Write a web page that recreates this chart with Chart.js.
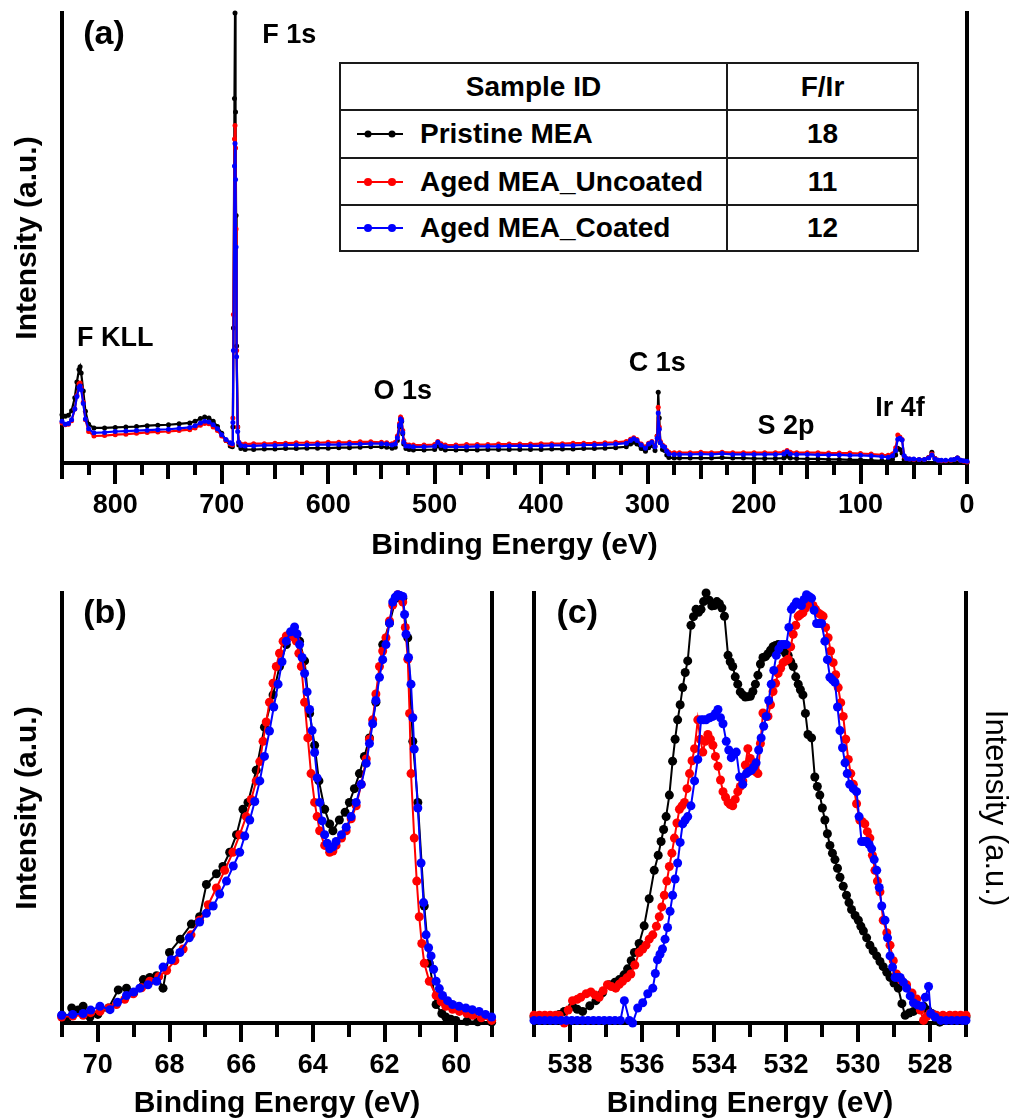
<!DOCTYPE html>
<html><head><meta charset="utf-8">
<script src="https://cdn.jsdelivr.net/npm/chart.js@4.4.1/dist/chart.umd.min.js"></script>
<style>
html,body{margin:0;padding:0;background:#fff;}
#wrap{position:relative;width:1018px;height:1120px;overflow:hidden;background:#fff;}
canvas{position:absolute;left:0;top:0;}
#tbl{position:absolute;left:339px;top:62px;width:580px;height:190px;box-sizing:border-box;background:#1a1a1a;padding:2px;display:grid;grid-template-columns:385px 189px;grid-template-rows:45px 46px 45px 44px;gap:2px;font-family:"Liberation Sans",Arial,Helvetica,sans-serif;font-weight:bold;font-size:28px;color:#000;}
#tbl div{background:#fff;display:flex;align-items:center;white-space:nowrap;}
#tbl .c{justify-content:center;}
#tbl .l{padding-left:16px;}
#tbl .l svg{margin-right:17px;flex:none;}
</style></head><body><div id="wrap">
<canvas id="ca" width="1018" height="1120"></canvas>
<canvas id="cb" width="1018" height="1120"></canvas>
<canvas id="cc" width="1018" height="1120"></canvas>
<div id="tbl"></div>
</div>
<script>
// ---------------- DATA ----------------
const sampleIDs = ['Pristine MEA', 'Aged MEA_Uncoated', 'Aged MEA_Coated'];
const fIrRatios = ['18', '11', '12'];

const surveyTicks = [800, 700, 600, 500, 400, 300, 200, 100, 0];
const ir4fTicks = [70, 68, 66, 64, 62, 60];
const o1sTicks = [538, 536, 534, 532, 530, 528];

// (a) survey, binding energy (eV)
const surveyBE = [850,847,844,841,838,836,834,833,832,830,
828,825,820,810,800,790,780,770,760,750,
740,730,725,720,716,712,708,704,700,696,
692,690,689.5,689,688,687.5,687,686.5,686,685,
684,682,678,670,660,650,640,630,620,610,
600,590,580,570,560,550,545,540,537,535,
533,532,531,530,529,527,524,520,510,500,
497,494,490,480,470,460,450,440,430,420,
410,400,390,380,370,360,350,340,330,320,
316,313,310,306,302,299,296,293,291,290,
289,288,286,284,282,280,275,270,260,250,
240,230,220,210,200,190,180,172,169,166,
160,150,140,130,120,110,100,90,80,74,
70,67,65,63,61,59,57,54,50,45,
40,36,33,30,27,24,20,15,12,9,
6,3,0];
const surveyPristine = [10.7,10.4,10.6,11.6,14.5,18.0,20.8,21.4,20.0,16.0,
11.5,8.6,7.8,7.8,7.9,8.0,8.1,8.3,8.4,8.5,
8.7,8.9,9.3,9.9,10.2,10.0,9.3,8.1,6.6,5.0,
3.8,3.6,8,30,81,100,78,55,26,8,
4,3.2,3.0,3.0,3.1,3.1,3.2,3.2,3.3,3.3,
3.3,3.4,3.4,3.5,3.6,3.6,3.5,3.3,3.5,5.0,
8.0,9.6,9.2,6.5,4.2,3.2,3.0,2.9,2.9,3.0,
3.8,3.2,2.9,2.9,2.9,2.9,3.0,3.0,3.0,3.0,
3.0,3.0,3.1,3.1,3.1,3.2,3.2,3.3,3.4,3.6,
4.2,4.6,4.2,3.2,2.6,3.4,3.9,2.8,6.0,15.7,
10.0,4.5,3.0,2.8,1.8,1.2,1.1,1.1,1.1,1.1,
1.1,1.2,1.1,1.1,1.0,1.0,1.0,1.1,1.5,1.1,
1.0,0.9,0.9,0.8,0.8,0.7,0.7,0.6,0.5,0.5,
0.8,1.8,3.3,3.0,2.2,0.8,0.6,0.6,0.6,0.5,
0.5,1.2,2.4,1.0,0.4,0.4,0.4,0.5,0.7,1.1,
0.6,0.3,0.1];
const surveyUncoated = [8.9,8.5,8.6,9.4,12.0,15.0,17.6,17.8,16.8,13.5,
9.6,7.0,6.0,6.1,6.3,6.4,6.6,6.8,6.9,7.0,
7.2,7.4,7.8,8.4,8.8,8.7,8.0,7.2,6.0,5.0,
4.2,4.0,10,33,72,75,70,52,25,8,
4.6,4.2,4.2,4.3,4.3,4.4,4.4,4.5,4.5,4.5,
4.6,4.6,4.6,4.7,4.7,4.6,4.5,4.3,4.6,6.0,
8.8,10.2,9.8,7.2,5.0,4.1,4.0,4.0,4.0,4.1,
4.8,4.3,4.0,4.0,4.1,4.1,4.1,4.2,4.2,4.2,
4.2,4.3,4.3,4.3,4.4,4.4,4.4,4.5,4.6,4.8,
5.3,5.6,5.2,4.2,3.6,4.4,4.8,3.8,6.0,12.4,
8.0,4.8,4.0,3.6,2.8,2.4,2.3,2.3,2.3,2.4,
2.3,2.4,2.3,2.3,2.3,2.3,2.3,2.4,2.8,2.4,
2.3,2.3,2.3,2.2,2.2,2.2,2.1,2.0,1.8,1.7,
2.0,3.4,6.2,5.8,5.2,1.5,1.0,0.9,0.8,0.8,
0.8,1.2,2.0,1.0,0.6,0.5,0.5,0.6,0.8,1.1,
0.6,0.4,0.2];
const surveyCoated = [9.3,8.6,8.8,9.6,12.0,14.8,16.8,17.1,16.3,13.2,
9.8,7.6,6.7,6.8,7.0,7.1,7.2,7.3,7.4,7.5,
7.7,7.9,8.3,8.9,9.3,9.1,8.5,7.6,6.3,5.2,
4.5,4.3,9,25,66,71,63,48,23.6,7,
4.6,3.9,3.8,3.8,3.9,3.9,4.0,4.0,4.0,4.1,
4.1,4.1,4.2,4.2,4.3,4.3,4.2,4.0,4.2,5.6,
8.4,9.8,9.4,6.8,4.6,3.8,3.7,3.6,3.6,3.7,
4.6,3.9,3.6,3.6,3.6,3.7,3.7,3.7,3.8,3.8,
3.8,3.8,3.9,3.9,3.9,4.0,4.0,4.1,4.2,4.4,
5.0,5.4,5.0,4.0,3.3,4.2,4.6,3.6,5.5,11.1,
7.5,4.5,3.8,3.5,2.6,2.0,1.9,1.9,1.9,2.0,
1.9,2.1,1.9,1.9,1.9,1.9,1.9,2.0,2.5,2.0,
1.9,1.9,1.8,1.8,1.8,1.7,1.7,1.6,1.4,1.3,
1.6,2.8,5.3,5.5,5.1,1.6,1.0,0.9,0.9,0.8,
0.8,1.1,1.8,0.9,0.6,0.6,0.6,0.7,0.8,1.1,
0.6,0.5,0.4];

// (b) Ir 4f
const irPristineBE = [71.0,70.87,70.73,70.55,70.41,70.22,70.0,69.7,69.43,69.2,69.0,68.73,68.55,68.36,68.18,68.0,67.7,67.39,67.16,66.97,66.69,66.51,66.32,66.13,65.95,65.81,65.58,65.35,65.11,64.93,64.74,64.6,64.46,64.37,64.23,64.09,63.95,63.83,63.67,63.53,63.44,63.26,63.1,62.98,62.84,62.7,62.56,62.42,62.24,62.05,61.86,61.68,61.49,61.35,61.21,61.07,60.89,60.75,60.56,60.4,60.29,60.15,60.01,59.7,59.4,59.01];
const irPristine = [1.8,0.6,3.5,3.0,3.9,1.4,2.0,3.5,7.7,8.1,7.0,10.1,10.6,11.0,8.1,16.4,19.5,23.0,24.7,32.2,34.7,36.4,39.7,43.8,49.7,51.3,58.8,68.8,76.3,82.9,88.0,90.8,89.5,88.8,84.2,72.0,64.6,56.3,49.7,46.3,44.7,47.2,49.0,51.3,54.5,58.0,62.0,66.3,74.6,88.0,93.0,98.8,98.8,89.6,65.5,51.3,27.2,13.9,4.3,2.2,1.4,0.9,0.6,0.4,0.3,0.2];
const irUncoatedBE = [71.01,70.7,70.41,70.2,69.94,69.7,69.48,69.25,69.01,68.78,68.55,68.3,68.08,67.85,67.62,67.4,67.16,66.92,66.69,66.46,66.23,66.04,65.86,65.72,65.58,65.48,65.39,65.3,65.21,65.11,65.02,64.93,64.83,64.74,64.65,64.55,64.46,64.39,64.32,64.23,64.14,64.05,63.95,63.88,63.81,63.67,63.53,63.44,63.35,63.2,63.07,62.93,62.79,62.65,62.51,62.42,62.33,62.24,62.14,62.05,61.96,61.86,61.77,61.63,61.49,61.42,61.35,61.3,61.26,61.17,61.1,61.03,60.96,60.89,60.75,60.56,60.42,60.29,60.1,59.91,59.7,59.54,59.3,59.01];
const irUncoated = [1.4,1.6,1.8,2.4,2.7,3.5,4.3,5.5,6.8,8.2,9.7,10.8,12.2,14.5,17.2,20.5,23.9,27.5,31.4,35.5,39.7,43.8,48.0,52.0,56.3,60.8,65.5,70.0,74.6,79.0,82.9,86.0,88.8,90.0,90.4,89.8,88.8,86.0,82.9,74.6,66.3,58.0,51.3,48.0,44.7,41.3,39.7,40.0,41.3,43.0,44.7,47.5,50.5,55.5,61.4,66.0,70.5,76.5,82.9,86.5,89.6,93.5,97.2,99.6,97.9,92.0,84.6,72.0,58.0,43.0,33.0,24.7,18.5,13.9,9.7,6.4,5.0,3.9,3.2,2.7,2.2,1.8,1.2,0.6];
const irCoatedBE = [71.01,70.7,70.41,70.2,69.94,69.66,69.45,69.2,69.0,68.83,68.6,68.36,68.18,67.95,67.71,67.45,67.16,66.97,66.78,66.6,66.41,66.22,66.04,65.9,65.76,65.62,65.48,65.35,65.21,65.09,64.97,64.86,64.74,64.62,64.51,64.44,64.37,64.3,64.23,64.16,64.09,64.02,63.95,63.88,63.81,63.74,63.67,63.6,63.53,63.44,63.35,63.2,63.07,62.93,62.79,62.65,62.51,62.42,62.33,62.24,62.14,62.05,61.96,61.86,61.77,61.7,61.63,61.56,61.49,61.44,61.4,61.33,61.26,61.21,61.17,61.07,60.98,60.91,60.84,60.77,60.7,60.63,60.56,60.47,60.38,60.24,60.1,59.92,59.73,59.55,59.36,59.18,59.01];
const irCoated = [1.8,2.0,2.2,3.0,3.9,3.1,4.8,6.4,7.2,8.1,8.9,9.7,13.0,14.7,16.4,19.8,23.5,25.5,27.2,30.0,33.0,36.5,39.7,43.5,47.2,51.5,56.3,62.0,67.9,73.5,78.8,84.0,88.8,91.0,92.1,90.5,88.0,85.0,81.3,77.0,72.9,68.0,62.9,57.0,51.3,47.0,43.8,41.8,40.5,41.0,42.2,43.8,45.5,48.0,51.3,55.5,60.4,65.0,69.6,75.0,80.4,84.5,88.0,93.0,97.9,99.0,99.6,99.4,99.2,95.0,90.4,85.0,78.8,71.0,63.7,50.0,37.2,28.0,20.5,17.5,15.6,12.5,9.7,8.0,6.4,5.2,4.3,3.9,3.5,3.1,2.7,2.0,1.4];

// (c) O 1s
const oPristineBE = [539.0,538.85,538.7,538.55,538.4,538.3,538.16,537.93,537.8,537.65,
537.45,537.28,537.1,536.91,536.75,536.63,536.5,536.4,536.3,536.21,
536.08,535.94,535.8,535.66,535.55,535.47,535.4,535.33,535.24,535.15,
535.08,535.01,534.94,534.87,534.8,534.73,534.64,534.57,534.5,534.43,
534.36,534.29,534.22,534.13,534.06,533.99,533.92,533.85,533.78,533.71,
533.61,533.55,533.48,533.41,533.34,533.27,533.2,533.13,533.06,532.99,
532.92,532.85,532.78,532.71,532.64,532.57,532.5,532.43,532.36,532.29,
532.22,532.15,532.08,532.01,531.94,531.87,531.8,531.73,531.66,531.6,
531.53,531.46,531.39,531.29,531.2,531.13,531.06,530.99,530.92,530.85,
530.78,530.71,530.64,530.57,530.5,530.41,530.32,530.25,530.18,530.08,
529.99,529.92,529.85,529.76,529.67,529.58,529.48,529.39,529.3,529.2,
529.11,529.0,528.88,528.78,528.69,528.58,528.46,528.32,528.18,528.06,
527.95,527.84,527.73,527.53,527.3,527.15,527.0];
const oPristine = [1.4,1.4,1.4,1.4,1.6,2.0,2.7,3.9,3.2,2.7,
4.0,5.2,7.0,8.9,9.5,10.1,11.2,12.6,14.5,16.4,
18.5,22.6,28.9,35.5,39.0,42.2,45.0,48.0,53.0,60.9,
66.0,70.5,74.0,78.0,81.5,84.2,92.5,94.5,96.2,95.5,
96.2,98.0,100,98.3,97.0,97.1,98.0,97.5,96.5,94.6,
85.5,84.0,82.9,80.5,78.8,77.0,76.3,75.8,75.9,76.0,
77.1,78.8,80.9,83.5,85.0,85.2,85.9,86.7,87.5,87.8,
88.0,87.3,86.7,86.0,85.5,84.0,82.9,80.5,78.8,77.5,
76.3,72.0,67.1,66.3,57.2,55.0,53.0,50.0,47.2,44.0,
41.3,39.5,38.0,36.0,33.9,31.8,29.7,28.0,26.4,25.0,
23.9,22.5,21.4,19.8,18.1,16.8,15.6,14.3,13.1,11.8,
10.6,9.3,8.1,4.5,1.8,2.3,2.7,3.3,3.9,3.0,
2.2,1.2,0.2,1.4,1.4,1.4,1.4];
const oUncoatedBE = [539.0,538.85,538.7,538.55,538.4,538.3,538.16,538.05,537.93,537.8,
537.7,537.55,537.42,537.3,537.19,537.08,536.96,536.85,536.73,536.63,
536.54,536.42,536.31,536.2,536.08,535.98,535.89,535.8,535.7,535.6,
535.52,535.45,535.38,535.31,535.24,535.17,535.1,535.03,534.96,534.89,
534.82,534.75,534.68,534.61,534.54,534.45,534.38,534.31,534.24,534.17,
534.1,534.03,533.96,533.89,533.82,533.75,533.68,533.61,533.55,533.48,
533.41,533.34,533.27,533.2,533.13,533.06,532.99,532.92,532.85,532.78,
532.71,532.64,532.57,532.5,532.43,532.36,532.29,532.22,532.15,532.08,
532.01,531.94,531.87,531.8,531.73,531.66,531.6,531.53,531.46,531.39,
531.32,531.25,531.18,531.11,531.04,530.97,530.9,530.83,530.76,530.69,
530.62,530.55,530.48,530.41,530.34,530.27,530.2,530.13,530.04,529.95,
529.88,529.81,529.74,529.67,529.6,529.53,529.46,529.39,529.3,529.2,
529.11,529.02,528.93,528.8,528.65,528.5,528.37,528.27,528.18,528.09,
528.0,527.91,527.82,527.64,527.45,527.3,527.15,527.0];
const oUncoated = [1.8,1.8,1.8,1.8,1.8,1.8,0.0,3.0,5.2,5.5,
6.0,6.8,7.2,6.5,6.0,7.5,8.9,8.5,8.1,9.0,
9.7,10.5,11.4,13.5,16.4,17.2,18.1,19.5,20.5,22.5,
24.7,27.0,29.7,33.0,36.4,39.5,43.0,46.5,49.7,50.5,
51.3,54.5,58.0,61.0,63.8,70.5,66.0,63.0,65.5,67.1,
66.0,64.6,62.0,59.7,56.5,53.8,52.5,51.3,50.8,50.5,
52.0,53.8,55.0,56.3,60.0,63.8,61.5,59.7,58.5,58.0,
65.0,72.1,71.5,71.3,74.0,77.1,79.0,81.3,82.5,83.8,
84.2,84.6,87.5,90.4,92.5,94.6,95.0,95.4,96.5,97.9,
97.5,97.1,96.2,95.4,95.0,94.6,92.0,89.6,86.5,83.8,
81.0,78.0,74.5,71.3,66.0,61.3,58.0,55.5,51.0,47.2,
46.8,46.3,44.5,43.0,39.0,35.5,33.0,30.5,23.9,21.0,
18.1,14.5,11.4,10.0,8.9,7.0,5.6,3.0,0.6,1.5,
2.2,2.0,1.8,1.8,1.8,1.8,1.8,1.8];
const oCoatedBE = [539.0,538.85,538.7,538.55,538.4,538.25,538.1,537.95,537.8,537.65,
537.5,537.35,537.2,537.05,536.9,536.75,536.6,536.49,536.35,536.26,
536.12,535.98,535.84,535.7,535.63,535.57,535.5,535.43,535.36,535.29,
535.22,535.15,535.08,535.01,534.94,534.87,534.8,534.73,534.64,534.54,
534.45,534.36,534.29,534.22,534.12,534.03,533.96,533.89,533.82,533.75,
533.66,533.59,533.52,533.45,533.38,533.29,533.2,533.1,533.03,532.96,
532.9,532.83,532.76,532.69,532.62,532.55,532.48,532.41,532.34,532.27,
532.2,532.13,532.06,531.99,531.92,531.85,531.78,531.71,531.64,531.57,
531.5,531.43,531.36,531.29,531.22,531.15,531.08,531.01,530.92,530.85,
530.78,530.71,530.64,530.57,530.5,530.43,530.36,530.3,530.23,530.13,
530.04,529.97,529.9,529.83,529.76,529.69,529.62,529.55,529.48,529.41,
529.34,529.25,529.18,529.11,529.04,528.97,528.9,528.83,528.74,528.65,
528.55,528.46,528.35,528.23,528.13,528.04,527.98,527.86,527.7,527.55,
527.4,527.25,527.1,527.0];
const oCoated = [0.6,0.6,0.6,0.6,0.6,0.6,0.6,0.6,0.6,0.6,
0.6,0.6,0.6,0.6,0.6,0.6,0.6,5.2,0.6,0.0,
3.5,4.7,6.8,8.1,11.5,14.7,16.0,17.2,19.5,22.2,
26.0,29.7,33.5,37.2,42.0,46.3,47.2,48.0,50.5,56.3,
61.3,70.5,70.5,70.5,71.0,71.3,72.0,72.9,71.0,69.6,
65.5,63.5,61.7,62.5,63.0,57.2,55.5,58.0,58.5,58.8,
59.5,60.5,63.5,66.3,69.0,71.3,75.0,78.8,82.0,85.5,
87.0,88.0,88.0,88.0,92.0,96.2,97.0,97.9,97.5,97.1,
98.5,99.6,99.2,98.8,96.0,92.9,92.9,92.9,88.8,84.5,
80.4,79.8,79.2,73.5,68.0,64.0,60.5,58.0,55.5,54.5,
53.8,48.0,42.2,42.2,42.2,41.5,40.5,38.0,35.5,31.5,
27.2,23.9,19.8,15.6,13.0,10.6,10.6,10.6,9.5,8.1,
6.3,4.7,4.2,3.9,6.0,8.5,2.2,1.4,0.6,0.6,
0.6,0.6,0.6,0.6];

// ---------------- STYLE ----------------
const FONT = '"Liberation Sans", Arial, Helvetica, sans-serif';
const seriesColors = ['#000000', '#ff0000', '#0000ff'];

// table / legend
const tbl = document.getElementById('tbl');
function cell(cls, html) { const d = document.createElement('div'); d.className = cls; d.innerHTML = html; tbl.appendChild(d); }
cell('c', 'Sample ID'); cell('c', 'F/Ir');
sampleIDs.forEach((id, i) => {
  const c = seriesColors[i], r = i ? 4 : 3.5;
  cell('l', `<svg width="46" height="12" viewBox="0 0 46 12"><line x1="0" y1="6" x2="46" y2="6" stroke="${c}" stroke-width="2"/><circle cx="11" cy="6" r="${r}" fill="${c}"/><circle cx="35" cy="6" r="${r}" fill="${c}"/></svg><span>${id}</span>`);
  cell('c', fIrRatios[i]);
});

const textPlugin = {
  id: 'texts',
  afterDraw(chart, args, opts) {
    const ctx = chart.ctx, xs = chart.scales.x, ys = chart.scales.y;
    ctx.save();
    ctx.fillStyle = '#000'; ctx.textAlign = 'center'; ctx.textBaseline = 'middle';
    (opts.items || []).forEach(it => {
      ctx.font = `bold ${it.size}px ${FONT}`;
      ctx.fillText(it.text, xs.getPixelForValue(it.x), ys.getPixelForValue(it.y));
    });
    ctx.restore();
  }
};

function series(xs, ys, color, order, r, bw) {
  return {
    data: xs.map((x, i) => ({x, y: ys[i]})).filter(p => p.y !== undefined),
    borderColor: color, backgroundColor: color,
    pointBackgroundColor: color, pointBorderColor: color, pointBorderWidth: 0,
    pointRadius: r, pointHoverRadius: r, borderWidth: bw, tension: 0, fill: false,
    order, clip: false, xAxisID: 'x', yAxisID: 'y'
  };
}

function makeChart(id, cfg) {
  const sc = {};
  sc.x = {
    type: 'linear', position: 'bottom', bounds: 'data', min: cfg.xmin, max: cfg.xmax, reverse: true, weight: 5,
    afterBuildTicks: a => { a.ticks = cfg.ticks.map(v => ({value: v})); },
    ticks: {autoSkip: false, maxRotation: 0, minRotation: 0, padding: cfg.labelPad, color: '#000',
      font: {family: FONT, size: 27, weight: 'bold', lineHeight: 1}},
    grid: {display: true, drawOnChartArea: false, drawTicks: true, tickLength: cfg.majorLen, tickWidth: 4, lineWidth: 4, tickColor: '#000', color: '#000'},
    border: {display: true, width: 4, color: '#000'},
    title: {display: true, text: 'Binding Energy (eV)', color: '#000',
      font: {family: FONT, size: 30, weight: 'bold', lineHeight: 1}, padding: {top: 0, bottom: cfg.xTitlePad}},
    afterFit: s => { s.height = cfg.xHeight; }
  };
  cfg.minor.forEach((m, k) => {
    sc['xm' + k] = {
      type: 'linear', position: 'bottom', bounds: 'data', min: cfg.xmin, max: cfg.xmax, reverse: true, weight: k,
      ticks: {display: false, stepSize: m.step, autoSkip: false},
      grid: {display: true, drawOnChartArea: false, drawTicks: true, tickLength: m.len, tickWidth: 4, lineWidth: 4, tickColor: '#000'},
      border: {display: false},
      afterFit: s => { s.height = 0; }
    };
  });
  sc.y = {
    type: 'linear', position: 'left', min: 0, max: 100,
    ticks: {display: false}, grid: {display: true, drawOnChartArea: false, drawTicks: false},
    border: {display: true, width: 4, color: '#000'},
    title: cfg.leftTitle ? {display: true, text: 'Intensity (a.u.)', color: '#000',
      font: {family: FONT, size: 30, weight: 'bold', lineHeight: 1}, padding: {top: 13, bottom: 0}} : {display: false},
    afterFit: s => { s.width = cfg.yLeftW; }
  };
  sc.yr = {
    type: 'linear', position: 'right', min: 0, max: 1,
    ticks: {display: false}, grid: {display: true, drawOnChartArea: false, drawTicks: false},
    border: {display: true, width: 4, color: '#000'},
    title: cfg.rightTitle ? {display: true, text: 'Intensity (a.u.)', color: '#000',
      font: {family: FONT, size: 31, weight: 'normal', lineHeight: 1}, padding: {top: 8, bottom: 0}} : {display: false},
    afterFit: s => { s.width = cfg.yRightW; }
  };
  return new Chart(document.getElementById(id), {
    type: 'line',
    data: {datasets: cfg.datasets},
    options: {
      responsive: false, maintainAspectRatio: false, animation: false, devicePixelRatio: 1, events: [],
      layout: {padding: cfg.padding},
      plugins: {legend: {display: false}, tooltip: {enabled: false}, texts: {items: cfg.texts}},
      scales: sc
    },
    plugins: [textPlugin]
  });
}

makeChart('ca', {
  xmin: 0, xmax: 850, ticks: surveyTicks, labelPad: 8.5, majorLen: 21, xTitlePad: 2, xHeight: 100,
  minor: [{step: 25, len: 12}, {step: 50, len: 16}],
  leftTitle: true, rightTitle: false, yLeftW: 62, yRightW: 51,
  padding: {top: 13, left: 0, right: 0, bottom: 557},
  datasets: [
    series(surveyBE, surveyPristine, seriesColors[0], 3, 2.5, 2.2),
    series(surveyBE, surveyUncoated, seriesColors[1], 2, 2.5, 2.2),
    series(surveyBE, surveyCoated, seriesColors[2], 1, 2.5, 2.2)
  ],
  texts: [
    {text: '(a)', x: 810.6, y: 95.3, size: 34},
    {text: 'F 1s', x: 636.6, y: 94.9, size: 27},
    {text: 'F KLL', x: 800, y: 27.6, size: 27},
    {text: 'O 1s', x: 530, y: 15.8, size: 27},
    {text: 'C 1s', x: 291, y: 22, size: 27},
    {text: 'S 2p', x: 170, y: 8.0, size: 27},
    {text: 'Ir 4f', x: 63, y: 12.2, size: 27}
  ]
});

makeChart('cb', {
  xmin: 59, xmax: 71, ticks: ir4fTicks, labelPad: 10.5, majorLen: 19, xTitlePad: 1, xHeight: 97,
  minor: [{step: 1, len: 14}],
  leftTitle: true, rightTitle: false, yLeftW: 62, yRightW: 10,
  padding: {top: 593, left: 0, right: 516, bottom: 0},
  datasets: [
    series(irPristineBE, irPristine, seriesColors[0], 3, 4.5, 2),
    series(irUncoatedBE, irUncoated, seriesColors[1], 2, 4.5, 2),
    series(irCoatedBE, irCoated, seriesColors[2], 1, 4.5, 2)
  ],
  texts: [{text: '(b)', x: 69.8, y: 95.2, size: 34}]
});

makeChart('cc', {
  xmin: 527, xmax: 539, ticks: o1sTicks, labelPad: 10.5, majorLen: 19, xTitlePad: 1, xHeight: 97,
  minor: [{step: 1, len: 14}],
  leftTitle: false, rightTitle: true, yLeftW: 10, yRightW: 52,
  padding: {top: 593, left: 524, right: 0, bottom: 0},
  datasets: [
    series(oPristineBE, oPristine, seriesColors[0], 3, 4.5, 2),
    series(oUncoatedBE, oUncoated, seriesColors[1], 2, 4.5, 2),
    series(oCoatedBE, oCoated, seriesColors[2], 1, 4.5, 2)
  ],
  texts: [{text: '(c)', x: 537.8, y: 95.2, size: 34}]
});
</script>
</body></html>
